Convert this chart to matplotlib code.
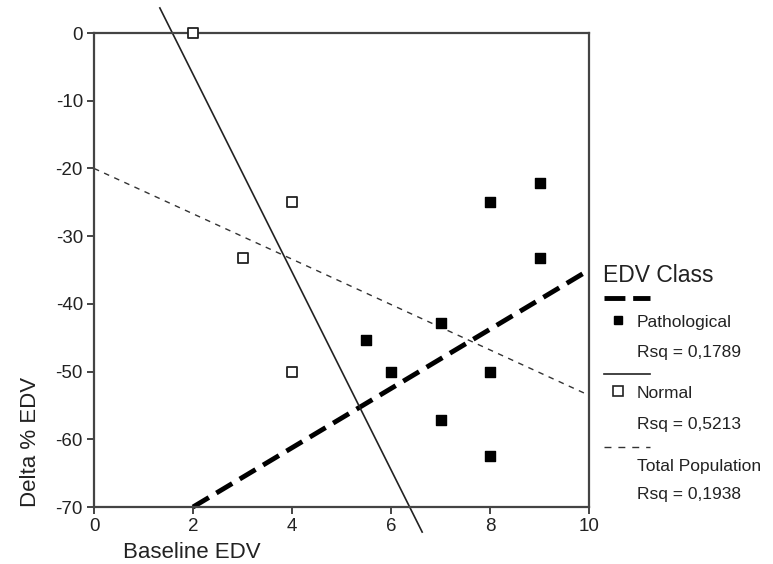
import numpy as np
import matplotlib.pyplot as plt

plt.rcParams['font.family'] = ['Liberation Sans', 'DejaVu Sans']
plt.rcParams['axes.unicode_minus'] = False

# data
normal_x = [2, 3, 4, 4]
normal_y = [0, -33.3, -25, -50]
patho_x = [5.5, 6, 7, 7, 8, 8, 8, 9, 9]
patho_y = [-45.3, -50, -42.8, -57.2, -25, -50, -62.5, -22.2, -33.3]

# fit lines (endpoints)
patho_fit_x = [2, 10]
patho_fit_y = [-70, -35]
normal_fit_x = [1.33, 6.63]
normal_fit_y = [3.7, -73.7]
total_fit_x = [0, 10]
total_fit_y = [-20, -53.5]

legend_labels = ['Pathological', 'Rsq = 0,1789', 'Normal', 'Rsq = 0,5213',
                 'Total Population', 'Rsq = 0,1938']

axcol = '#444444'
txtcol = '#222222'

fig = plt.figure(figsize=(7.73, 5.64), dpi=100)
ax = fig.add_axes([94/773, 1 - 507/564, 495/773, 474/564])

ax.plot(patho_fit_x, patho_fit_y, color='black', lw=3.5, ls=(0, (3.8, 1.8)), clip_on=False)
ax.plot(normal_fit_x, normal_fit_y, color='#222222', lw=1.2, clip_on=False)
ax.plot(total_fit_x, total_fit_y, color='#333333', lw=1.0, ls=(0, (4, 4)))

ax.scatter(patho_x, patho_y, marker='s', s=45, color='black', zorder=3)
ax.scatter(normal_x, normal_y, marker='s', s=55, facecolor='white',
           edgecolor='#222222', linewidth=1.3, zorder=3, clip_on=False)

ax.set_xlim(0, 10)
ax.set_ylim(-70, 0)
ax.set_xticks(np.arange(0, 11, 2))
ax.set_yticks(np.arange(-70, 1, 10))
for s in ax.spines.values():
    s.set_color(axcol)
    s.set_linewidth(1.6)
ax.tick_params(direction='out', length=5, width=1.4, color=axcol,
               labelsize=13.5, labelcolor=txtcol, pad=3)

fig.text(123/773, 1 - 552/564, 'Baseline EDV', fontsize=16, color=txtcol, va='center')
fig.text(31/773, 1 - 442/564, 'Delta % EDV', fontsize=16, color=txtcol,
         rotation=90, va='center', ha='center')

# legend drawn by hand
tr = fig.transFigure
def px(x, y):
    return x / 773, 1 - y / 564

fig.text(*px(603, 275), 'EDV Class', fontsize=16.5, color=txtcol, va='center')
fig.add_artist(plt.Line2D([604/773, 650/773], [1 - 298/564] * 2, color='black',
                          lw=3.5, ls=(0, (4.3, 1.6)), transform=tr))
fig.add_artist(plt.Line2D([618/773], [1 - 320/564], marker='s', ms=6, color='black',
                          transform=tr))
fig.text(*px(637, 323), legend_labels[0], fontsize=12.5, color=txtcol, va='center')
fig.text(*px(637, 352), legend_labels[1], fontsize=12.5, color=txtcol, va='center')
fig.add_artist(plt.Line2D([604/773, 650/773], [1 - 374/564] * 2, color='#222222',
                          lw=1.2, transform=tr))
fig.add_artist(plt.Line2D([618/773], [1 - 391/564], marker='s', ms=7, mfc='white',
                          mec='#222222', mew=1.2, transform=tr))
fig.text(*px(637, 394), legend_labels[2], fontsize=12.5, color=txtcol, va='center')
fig.text(*px(637, 425), legend_labels[3], fontsize=12.5, color=txtcol, va='center')
fig.add_artist(plt.Line2D([604/773, 650/773], [1 - 447/564] * 2, color='#333333',
                          lw=1.0, ls=(0, (5, 5)), transform=tr))
fig.text(*px(637, 466), legend_labels[4], fontsize=12.5, color=txtcol, va='center')
fig.text(*px(637, 495), legend_labels[5], fontsize=12.5, color=txtcol, va='center')

fig.savefig('out.png', dpi=100)
